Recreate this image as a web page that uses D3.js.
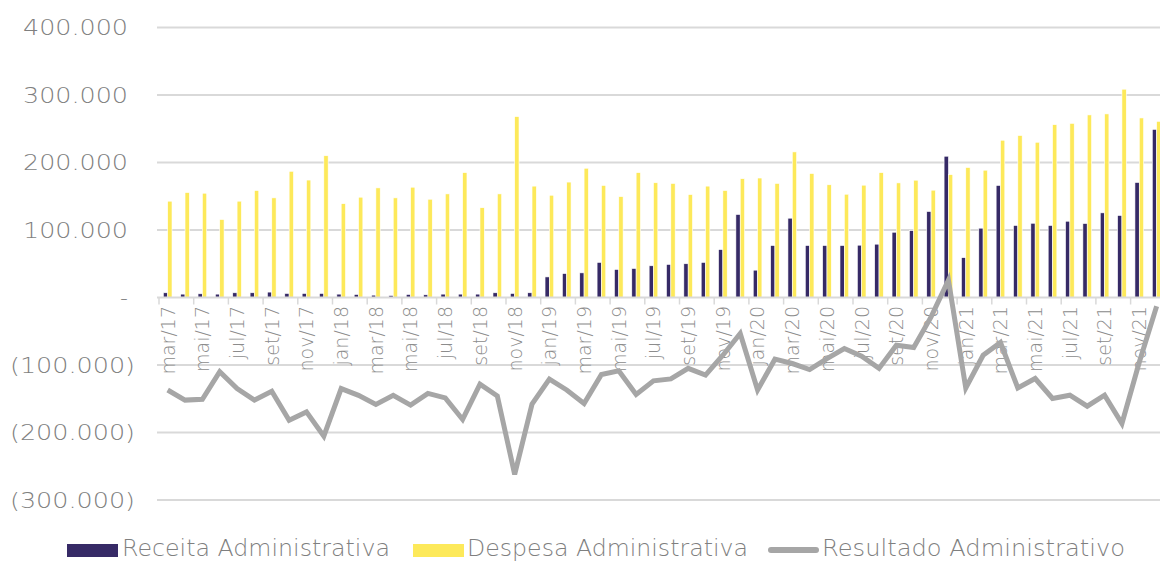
<!DOCTYPE html>
<html>
<head>
<meta charset="utf-8">
<script src="https://cdn.jsdelivr.net/npm/d3@7"></script>
<style>
  body { margin: 0; background: #fff; overflow: hidden; }
  svg { display: block; }
  text { font-family: "DejaVu Sans", sans-serif; font-weight: 200; fill: #7f7f7f; }
</style>
</head>
<body>
<div id="chart"></div>
<script>
// months, mar/17 .. dez/21
const months = ["mar/17","abr/17","mai/17","jun/17","jul/17","ago/17","set/17","out/17","nov/17","dez/17",
  "jan/18","fev/18","mar/18","abr/18","mai/18","jun/18","jul/18","ago/18","set/18","out/18","nov/18","dez/18",
  "jan/19","fev/19","mar/19","abr/19","mai/19","jun/19","jul/19","ago/19","set/19","out/19","nov/19","dez/19",
  "jan/20","fev/20","mar/20","abr/20","mai/20","jun/20","jul/20","ago/20","set/20","out/20","nov/20","dez/20",
  "jan/21","fev/21","mar/21","abr/21","mai/21","jun/21","jul/21","ago/21","set/21","out/21","nov/21","dez/21"];

const receita = [7, 5, 5.5, 5, 7, 7, 8, 6, 6, 6,
  5, 4.5, 3.5, 3, 4.5, 4, 5, 5, 5, 7, 6, 7,
  30.5, 35.5, 36.5, 52, 41.5, 43, 47, 49, 50, 52, 71, 123,
  40.5, 77, 117.5, 77, 77, 77, 77.5, 79, 96.7, 99, 127.4, 209.3,
  59, 102.7, 166, 106.7, 110, 106.7, 113, 109.6, 125.4, 121.5, 170.4, 249];

const despesa = [142.7, 155.5, 154.5, 115.5, 142.7, 158.5, 147.6, 187, 174, 210,
  139, 148.6, 162.4, 147.6, 163.4, 145.6, 153.5, 185, 133, 153.5, 268, 165,
  151.5, 171, 191.5, 166, 149.5, 185, 170, 169, 152.5, 165, 158.5, 176,
  177, 169, 215.7, 183.7, 167, 153, 166.4, 185, 169.8, 173.8, 159, 182,
  192.6, 188.6, 233, 240, 230, 256, 258, 270.5, 272, 308.6, 266, 261];

const resultado = [-137, -152, -150.7, -110, -135, -152, -139, -182, -169.5, -205.5,
  -135, -145, -158.5, -145, -159.5, -142, -148.7, -180.7, -128.4, -146, -262, -158,
  -121, -137, -157, -114, -108.7, -143.7, -123.5, -120.6, -105, -115, -85.5, -53.3,
  -137, -91.4, -97.8, -106.7, -90.4, -75.6, -87, -105, -70.7, -74, -28.7, 25.6,
  -134, -85.5, -66.7, -134, -120, -149.6, -144.7, -161, -144.7, -186.7, -96, -13];

const yTicks = [400, 300, 200, 100, 0, -100, -200, -300];

const seriesNames = ["Receita Administrativa", "Despesa Administrativa", "Resultado Administrativo"];
const colors = ["#362a66", "#fde95a", "#a6a6a6"];

const width = 1160, height = 562;

const svg = d3.select("#chart").append("svg")
  .attr("width", width)
  .attr("height", height);

// scales (thousands)
const x = d3.scaleBand()
  .domain(months)
  .range([159, 159 + months.length * 17.35])
  .padding(0);

const xs = d3.scaleBand()
  .domain([0, 1])
  .range([x.bandwidth() * 0.25, x.bandwidth() * 0.75]);

const y = d3.scaleLinear()
  .domain([-300, 400])
  .range([500, 27.5]);

const fmt = d => {
  if (d === 0) return "-";
  const s = d3.format(",")(Math.abs(d * 1000)).replace(/,/g, ".");
  return d < 0 ? `(${s})` : s;
};

// gridlines
svg.append("g")
  .selectAll("line")
  .data(yTicks.filter(d => d !== 0))
  .join("line")
  .attr("x1", 157)
  .attr("x2", width)
  .attr("y1", d => y(d))
  .attr("y2", d => y(d))
  .attr("stroke", "#d9d9d9")
  .attr("stroke-width", 2);

// y labels
svg.append("g")
  .selectAll("text")
  .data(yTicks)
  .join("text")
  .attr("x", d => d < 0 ? 135 : 128)
  .attr("y", d => y(d))
  .attr("dy", "0.36em")
  .attr("text-anchor", "end")
  .style("font-size", "22px")
  .attr("textLength", d => d === 0 ? null : (d < 0 ? 125 : 105))
  .attr("lengthAdjust", "spacingAndGlyphs")
  .text(fmt);

// bars
const groups = svg.append("g")
  .selectAll("g")
  .data(months)
  .join("g")
  .attr("transform", d => `translate(${x(d)},0)`);

groups.selectAll("rect")
  .data((d, i) => [receita[i], despesa[i]].map((v, k) => ({k, v})))
  .join("rect")
  .attr("x", d => xs(d.k))
  .attr("width", xs.bandwidth())
  .attr("y", d => y(Math.max(0, d.v)))
  .attr("height", d => Math.abs(y(d.v) - y(0)))
  .attr("fill", d => colors[d.k])
  .attr("stroke", "#fff")
  .attr("stroke-width", 0.6);

// zero axis line + ticks
svg.append("line")
  .attr("x1", 157)
  .attr("x2", width)
  .attr("y1", y(0))
  .attr("y2", y(0))
  .attr("stroke", "#d9d9d9")
  .attr("stroke-width", 2);

svg.append("g")
  .selectAll("line")
  .data(months.filter((d, i) => i % 2 === 0))
  .join("line")
  .attr("x1", d => x(d))
  .attr("x2", d => x(d))
  .attr("y1", y(0))
  .attr("y2", y(0) + 7)
  .attr("stroke", "#d9d9d9")
  .attr("stroke-width", 1.5);

// x labels, rotated
svg.append("g")
  .selectAll("text")
  .data(months.filter((d, i) => i % 2 === 0))
  .join("text")
  .attr("transform", d => `translate(${x(d) + x.bandwidth() / 2},306) rotate(-90)`)
  .attr("dy", "0.36em")
  .attr("text-anchor", "end")
  .style("font-size", "19px")
  .style("fill", "#8c8c8c")
  .text(d => d);

// resultado line
const line = d3.line()
  .x((d, i) => x(months[i]) + x.bandwidth() / 2)
  .y(d => y(d));

svg.append("path")
  .datum(resultado)
  .attr("d", line)
  .attr("fill", "none")
  .attr("stroke", colors[2])
  .attr("stroke-width", 5)
  .attr("stroke-linejoin", "miter");

// legend
const legend = [
  {name: seriesNames[0], sx: 67, tx: 122, tw: 268, type: "rect"},
  {name: seriesNames[1], sx: 413, tx: 467, tw: 281, type: "rect"},
  {name: seriesNames[2], sx: 768, tx: 822, tw: 303, type: "line"}
];

const lg = svg.append("g")
  .selectAll("g")
  .data(legend)
  .join("g");

lg.filter(d => d.type === "rect")
  .append("rect")
  .attr("x", d => d.sx)
  .attr("y", 544)
  .attr("width", 51)
  .attr("height", 13)
  .attr("fill", (d, i) => colors[i]);

lg.filter(d => d.type === "line")
  .append("line")
  .attr("x1", d => d.sx + 3)
  .attr("x2", d => d.sx + 48)
  .attr("y1", 550)
  .attr("y2", 550)
  .attr("stroke", colors[2])
  .attr("stroke-width", 6)
  .attr("stroke-linecap", "round");

lg.append("text")
  .attr("x", d => d.tx)
  .attr("y", 556)
  .style("font-size", "23px")
  .attr("textLength", d => d.tw)
  .attr("lengthAdjust", "spacingAndGlyphs")
  .text(d => d.name);
</script>
</body>
</html>
